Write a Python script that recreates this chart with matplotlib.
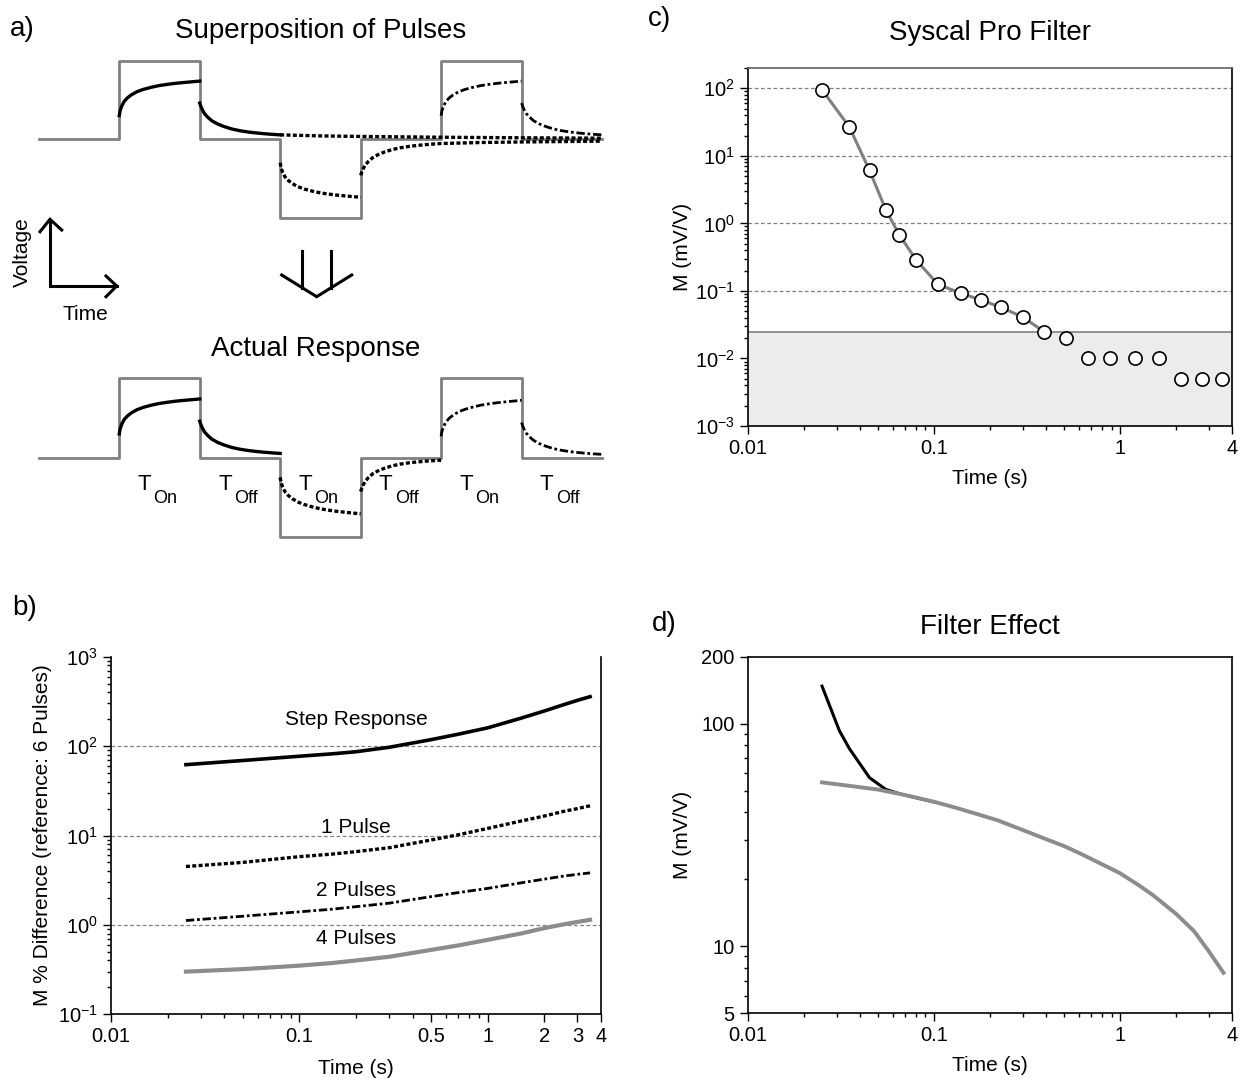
import numpy as np
import matplotlib
matplotlib.use("Agg")
import matplotlib.pyplot as plt
from matplotlib.ticker import NullFormatter, FixedLocator, FixedFormatter, LogLocator

plt.rcParams["font.family"] = ["Liberation Sans", "DejaVu Sans"]
plt.rcParams["mathtext.fontset"] = "custom"
plt.rcParams["mathtext.rm"] = "Liberation Sans"
plt.rcParams["mathtext.default"] = "regular"
plt.rcParams["axes.unicode_minus"] = False

# ---- data ----
# a) schematic: normalised charge / decay shapes of one pulse
charge_s = [0, 0.01, 0.03, 0.06, 0.1, 0.15, 0.22, 0.3, 0.4, 0.5, 0.6, 0.7, 0.8, 0.9, 1.0]
charge_v = [0.30, 0.36, 0.42, 0.48, 0.525, 0.565, 0.605, 0.635, 0.662, 0.684,
            0.699, 0.712, 0.722, 0.731, 0.74]
decay_s = [0, 0.01, 0.03, 0.06, 0.1, 0.15, 0.22, 0.3, 0.4, 0.5, 0.6, 0.7, 0.8, 0.9, 1.0,
           1.5, 2.0, 3.0, 4.0, 5.0]
decay_v = [0.46, 0.43, 0.38, 0.325, 0.28, 0.235, 0.195, 0.162, 0.13, 0.108, 0.092,
           0.08, 0.07, 0.062, 0.055, 0.042, 0.035, 0.025, 0.018, 0.013]
square_t = [0, 1, 1, 2, 2, 3, 3, 4, 4, 5, 5, 6, 6, 7]
square_v = [0, 0, 1, 1, 0, 0, -1, -1, 0, 0, 1, 1, 0, 0]
segment_labels = [("T", "On"), ("T", "Off"), ("T", "On"), ("T", "Off"), ("T", "On"), ("T", "Off")]

# b) M % difference vs time
b_time = [0.025, 0.05, 0.1, 0.15, 0.2, 0.3, 0.5, 0.7, 1.0, 1.5, 2.0, 2.5, 3.0, 3.5]
b_step = [62, 69, 77, 82, 86.5, 97, 118, 136, 160, 205, 247, 288, 325, 357]
b_1pulse = [4.5, 5.0, 5.8, 6.2, 6.6, 7.3, 8.9, 10.2, 12.0, 14.5, 16.5, 18.5, 20.0, 21.5]
b_2pulse = [1.12, 1.25, 1.4, 1.5, 1.6, 1.75, 2.07, 2.3, 2.56, 2.95, 3.25, 3.5, 3.68, 3.82]
b_4pulse = [0.30, 0.32, 0.35, 0.375, 0.40, 0.44, 0.525, 0.59, 0.68, 0.80, 0.92, 1.01,
            1.08, 1.14]

# c) Syscal Pro filter
c_time = [0.025, 0.035, 0.045, 0.055, 0.065, 0.08, 0.105, 0.14, 0.18, 0.23, 0.30, 0.39,
          0.51, 0.67, 0.88, 1.2, 1.63, 2.13, 2.77, 3.52]
c_m = [95, 27, 6.1, 1.6, 0.68, 0.29, 0.125, 0.092, 0.073, 0.057, 0.041, 0.025,
       0.020, 0.010, 0.010, 0.010, 0.010, 0.005, 0.005, 0.005]
n_fit = 12  # points covered by the grey curve
c_threshold = 0.025

# d) filter effect
d_time_raw = [0.025, 0.031, 0.035, 0.045, 0.055, 0.065, 0.08, 0.1]
d_m_raw = [147.5, 93, 77.5, 57.2, 50.7, 48.5, 46.5, 44.5]
d_time = [0.025, 0.035, 0.05, 0.07, 0.1, 0.13, 0.17, 0.22, 0.3, 0.4, 0.5, 0.6, 0.75,
          1.0, 1.25, 1.5, 2.0, 2.5, 3.0, 3.6]
d_m = [54.5, 52.6, 50.6, 47.8, 44.6, 42.0, 39.3, 36.8, 33.3, 30.3, 28.2, 26.3, 24.0,
       21.3, 18.9, 17.0, 14.0, 11.7, 9.5, 7.6]

W, H = 1247, 1084
GREY = "#808080"
fig = plt.figure(figsize=(W / 100, H / 100), dpi=100)


def box(l, t, r, b):
    return [l / W, 1 - b / H, (r - l) / W, (b - t) / H]


ov = fig.add_axes([0, 0, 1, 1])
ov.set_xlim(0, W)
ov.set_ylim(H, 0)
ov.axis("off")

# ---------------- a) ----------------
cs = np.array(charge_s)
cv = np.array(charge_v)
ds = np.array(decay_s)
dv = np.array(decay_v)
first = ds <= 1.0
dot = dict(color="black", lw=2.4, ls=(0, (1.2, 0.7)), clip_on=False)
dashdot = dict(color="black", lw=2.0, ls=(0, (3, 1, 1, 1)), clip_on=False)
solid = dict(color="black", lw=2.4, clip_on=False)


def tail(s):
    return np.interp(s, ds, dv)


ax_top = fig.add_axes(box(38.8, 60.7, 602, 217.7))
ax_bot = fig.add_axes(box(38.8, 378.3, 602, 537.3))
for ax in (ax_top, ax_bot):
    ax.set_xlim(0, 7)
    ax.set_ylim(-1, 1)
    ax.axis("off")
    ax.plot(square_t, square_v, color=GREY, lw=2, clip_on=False)

# superposition of the three pulses
ax_top.plot(1 + cs, cv, **solid)
ax_top.plot(2 + ds[first], dv[first], **solid)
ax_top.plot(2 + ds[ds >= 1.0], dv[ds >= 1.0], **dot)
ax_top.plot(3 + cs, -cv, **dot)
ax_top.plot(4 + ds[ds <= 3.0], -dv[ds <= 3.0], **dot)
ax_top.plot(5 + cs, cv, **dashdot)
ax_top.plot(6 + ds[first], dv[first], **dashdot)

# actual response = sum of the pulses
s1 = ds[first]
ax_bot.plot(1 + cs, cv, **solid)
ax_bot.plot(2 + s1, dv[first], **solid)
ax_bot.plot(3 + cs, -cv + tail(1 + cs), **dot)
ax_bot.plot(4 + s1, -dv[first] + tail(2 + s1), **dot)
ax_bot.plot(5 + cs, cv - tail(1 + cs) + tail(3 + cs), **dashdot)
ax_bot.plot(6 + s1, dv[first] - tail(2 + s1) + tail(4 + s1), **dashdot)

for k, (big, sub) in enumerate(segment_labels):
    xc = 158.6 + 80.46 * k
    ov.text(xc - 21, 490, big, fontsize=16, ha="left", va="baseline")
    ov.text(xc - 5, 503, sub, fontsize=13, ha="left", va="baseline")

ov.text(10, 29, "a)", fontsize=20, ha="left", va="center")
ov.text(320.6, 38, "Superposition of Pulses", fontsize=20, ha="center", va="baseline")
ov.text(316, 356, "Actual Response", fontsize=20, ha="center", va="baseline")
ov.text(22.5, 251.7, "Voltage", fontsize=15, rotation=90, ha="center", va="center")
ov.text(85, 314, "Time", fontsize=15, ha="center", va="center")

arrow = dict(color="black", lw=2.2, solid_joinstyle="miter")
ov.plot([50, 50, 116.7], [220, 286, 286], **arrow)
ov.plot([40, 50, 61.7], [231.7, 219.3, 230], **arrow)
ov.plot([106, 116.7, 106], [276, 286, 296.7], **arrow)
ov.plot([302.3, 302.3], [251, 288], **arrow)
ov.plot([331, 331], [251, 288], **arrow)
ov.plot([281.7, 316.7, 351.7], [275, 296.7, 275], **arrow)


def style_log(ax):
    ax.set_xscale("log")
    ax.set_yscale("log")
    ax.set_xlim(0.01, 4)
    ax.tick_params(which="both", direction="out", labelsize=14.5, width=1)
    ax.tick_params(which="major", length=6)
    ax.tick_params(which="minor", length=3)
    ax.xaxis.set_minor_formatter(NullFormatter())
    ax.yaxis.set_minor_formatter(NullFormatter())
    for sp in ax.spines.values():
        sp.set_linewidth(1.2)


# ---------------- b) ----------------
ax_b = fig.add_axes(box(111, 656.7, 601, 1014.3))
style_log(ax_b)
ax_b.set_ylim(0.1, 1000)
ax_b.spines["top"].set_visible(False)
for g in (1, 10, 100):
    ax_b.axhline(g, color=GREY, lw=0.9, ls=(0, (3, 2)), zorder=0)
ax_b.plot(b_time, b_step, color="black", lw=2.6)
ax_b.plot(b_time, b_1pulse, color="black", lw=2.4, ls=(0, (1.2, 0.7)))
ax_b.plot(b_time, b_2pulse, color="black", lw=2.0, ls=(0, (3, 1, 1, 1)))
ax_b.plot(b_time, b_4pulse, color="#8c8c8c", lw=3)
ax_b.text(0.2, 196, "Step Response", fontsize=15, ha="center", va="center")
ax_b.text(0.2, 12.4, "1 Pulse", fontsize=15, ha="center", va="center")
ax_b.text(0.2, 2.45, "2 Pulses", fontsize=15, ha="center", va="center")
ax_b.text(0.2, 0.70, "4 Pulses", fontsize=15, ha="center", va="center")
b_ticks = [0.01, 0.1, 0.5, 1, 2, 3, 4]
ax_b.xaxis.set_major_locator(FixedLocator(b_ticks))
ax_b.xaxis.set_major_formatter(FixedFormatter(["0.01", "0.1", "0.5", "1", "2", "3", "4"]))
ax_b.set_xlabel("Time (s)", fontsize=15)
ax_b.set_ylabel("M % Difference (reference: 6 Pulses)", fontsize=15)
ax_b.xaxis.set_label_coords(0.5, -0.125)
ax_b.yaxis.set_label_coords(-0.12, 0.5)
ov.text(12, 608, "b)", fontsize=20, ha="left", va="center")

# ---------------- c) ----------------
ax_c = fig.add_axes(box(748, 68, 1232, 426))
style_log(ax_c)
ax_c.set_ylim(1e-3, 200)
ax_c.axhspan(1e-3, c_threshold, color="#ececec", zorder=0, lw=0)
ax_c.axhline(c_threshold, color="#8a8a8a", lw=1.3, zorder=1)
for g in (0.1, 1, 10, 100):
    ax_c.axhline(g, color=GREY, lw=0.9, ls=(0, (3, 2)), zorder=1)
ax_c.plot(c_time[:n_fit], c_m[:n_fit], color=GREY, lw=2.2, zorder=2)
ax_c.plot(c_time, c_m, "o", mfc="white", mec="black", ms=9.5, mew=1.2, zorder=3,
          clip_on=False)
ax_c.spines["top"].set_color("#606060")
ax_c.yaxis.set_major_locator(LogLocator(base=10, numticks=10))
ax_c.xaxis.set_major_locator(FixedLocator([0.01, 0.1, 1, 4]))
ax_c.xaxis.set_major_formatter(FixedFormatter(["0.01", "0.1", "1", "4"]))
ax_c.set_title("Syscal Pro Filter", fontsize=20, pad=20)
ax_c.set_xlabel("Time (s)", fontsize=15)
ax_c.set_ylabel("M (mV/V)", fontsize=15)
ax_c.xaxis.set_label_coords(0.5, -0.12)
ax_c.yaxis.set_label_coords(-0.115, 0.5)
ov.text(648, 19, "c)", fontsize=20, ha="left", va="center")

# ---------------- d) ----------------
ax_d = fig.add_axes(box(748, 656.7, 1232, 1013.3))
style_log(ax_d)
ax_d.set_ylim(5, 200)
ax_d.plot(d_time_raw, d_m_raw, color="black", lw=2.2)
ax_d.plot(d_time, d_m, color="#8c8c8c", lw=2.8)
ax_d.xaxis.set_major_locator(FixedLocator([0.01, 0.1, 1, 4]))
ax_d.xaxis.set_major_formatter(FixedFormatter(["0.01", "0.1", "1", "4"]))
ax_d.yaxis.set_major_locator(FixedLocator([5, 10, 100, 200]))
ax_d.yaxis.set_major_formatter(FixedFormatter(["5", "10", "100", "200"]))
ax_d.set_title("Filter Effect", fontsize=20, pad=16)
ax_d.set_xlabel("Time (s)", fontsize=15)
ax_d.set_ylabel("M (mV/V)", fontsize=15)
ax_d.xaxis.set_label_coords(0.5, -0.12)
ax_d.yaxis.set_label_coords(-0.115, 0.5)
ov.text(652, 624, "d)", fontsize=20, ha="left", va="center")

fig.savefig("out.png", dpi=100)
